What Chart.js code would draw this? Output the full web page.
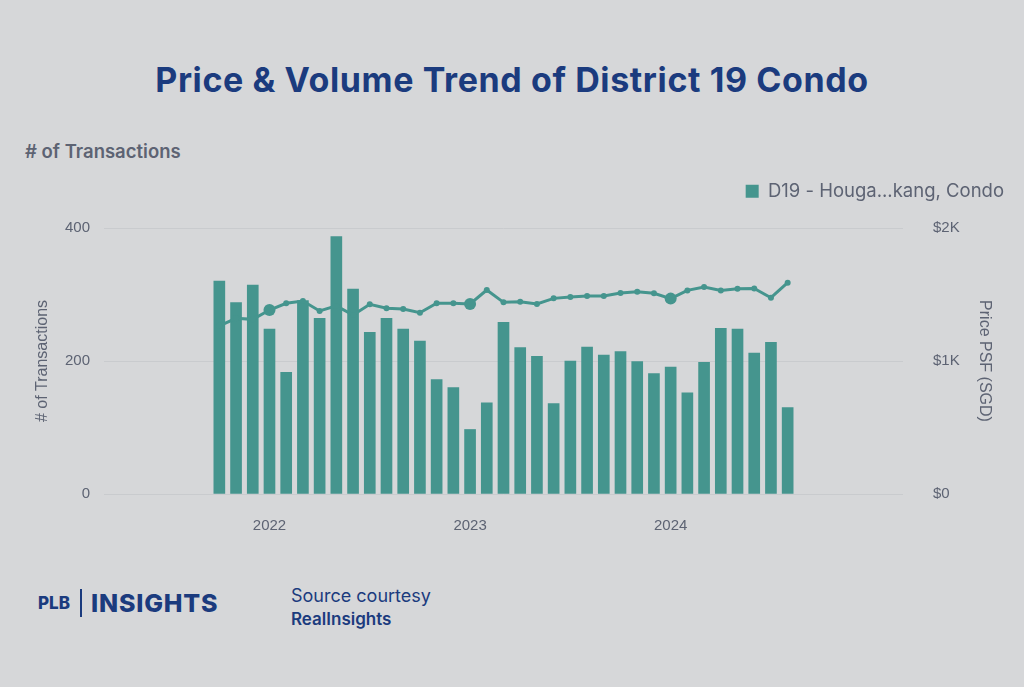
<!DOCTYPE html>
<html lang="en">
<head>
  <meta charset="UTF-8">
  <title>Price & Volume Trend of District 19 Condo</title>
  <script src="https://cdn.jsdelivr.net/npm/chart.js"></script>
  <style>
    html, body { margin: 0; padding: 0; }
    body { width: 1024px; height: 687px; background: #d6d7d9; position: relative; overflow: hidden; font-family: 'Inter', sans-serif; }
    h1 { position: absolute; left: 0; top: 59px; width: 1024px; margin: 0; text-align: center; font-size: 34px; font-weight: 700; color: #1b3b7e; letter-spacing: 0.6px; }
    .subhead { position: absolute; left: 25px; top: 140px; font-size: 18.5px; font-weight: 600; color: #5d6373; }
    .chart-box { position: absolute; left: 0; top: 170px; width: 1024px; height: 370px; }
    .logo { position: absolute; left: 38px; top: 588px; color: #1b3b7e; font-weight: 800; display: flex; align-items: center; }
    .logo .plb { font-size: 17px; }
    .logo .bar { width: 2px; height: 28px; background: #1b3b7e; margin: 0 9px 0 10px; }
    .logo .ins { font-size: 25px; letter-spacing: 0.8px; }
    .source { position: absolute; left: 291px; top: 584px; color: #1b3b7e; font-size: 18px; line-height: 23px; }
    .source b { font-weight: 600; font-size: 17px; }
  </style>
</head>
<body>
  <h1>Price &amp; Volume Trend of District 19 Condo</h1>
  <div class="subhead"># of Transactions</div>
  <div class="chart-box"><canvas id="d19Chart"></canvas></div>
  <div class="logo"><span class="plb">PLB</span><span class="bar"></span><span class="ins">INSIGHTS</span></div>
  <div class="source">Source courtesy<br><b>RealInsights</b></div>
  <script>
    // monthly data, Oct 2021 .. Aug 2024
    const months = ['2021-10','2021-11','2021-12',
      '2022-01','2022-02','2022-03','2022-04','2022-05','2022-06','2022-07','2022-08','2022-09','2022-10','2022-11','2022-12',
      '2023-01','2023-02','2023-03','2023-04','2023-05','2023-06','2023-07','2023-08','2023-09','2023-10','2023-11','2023-12',
      '2024-01','2024-02','2024-03','2024-04','2024-05','2024-06','2024-07','2024-08'];
    const transactions = [320, 288, 314,
      248, 183, 291, 264, 387, 308, 243, 264, 248, 230, 172, 160,
      97, 137, 258, 220, 207, 136, 200, 221, 209, 214, 199, 181,
      191, 152, 198, 249, 248, 212, 228, 130];
    const pricePsf = [1265, 1321, 1313,
      1383, 1434, 1451, 1376, 1414, 1346, 1426, 1396, 1391, 1363, 1434, 1434,
      1429, 1534, 1441, 1446, 1429, 1471, 1481, 1489, 1489, 1511, 1521, 1509,
      1469, 1531, 1556, 1531, 1544, 1546, 1476, 1589];
    const yearTicks = ['2022', '2023', '2024'];
    const seriesName = 'D19 - Houga...kang, Condo';

    const teal = '#45958e';
    const grey = '#5d6373';
    const BASE_YEAR = 2022;

    // months counted from Jan of the first tick year
    function monthIndex(s) {
      const [y, m] = s.split('-').map(Number);
      return (y - BASE_YEAR) * 12 + (m - 1);
    }
    const xs = months.map(monthIndex);
    const barData = xs.map((x, i) => ({ x: x, y: transactions[i] }));
    const lineData = xs.map((x, i) => ({ x: x, y: pricePsf[i] }));

    // keep the plot area where the reference has it
    const legendHeight = {
      id: 'legendHeight',
      beforeInit(chart) {
        const fit = chart.legend.fit;
        chart.legend.fit = function () { fit.call(this); this.height = 58; };
      }
    };

    const tickFont = { family: 'Liberation Sans', size: 15 };
    const titleFont = { family: 'Liberation Sans', size: 16 };

    new Chart(document.getElementById('d19Chart'), {
      data: {
        datasets: [
          {
            type: 'line', label: 'Price PSF', yAxisID: 'y1', data: lineData,
            borderColor: teal, backgroundColor: teal, borderWidth: 3,
            pointRadius: c => (xs[c.dataIndex] % 12 === 0 ? 6 : 3),
            pointBorderWidth: 0, tension: 0, order: 1
          },
          {
            type: 'bar', label: seriesName, yAxisID: 'y', data: barData,
            backgroundColor: teal, barThickness: 11, order: 2
          }
        ]
      },
      plugins: [legendHeight],
      options: {
        responsive: true, maintainAspectRatio: false, animation: false,
        layout: { padding: { right: 8 } },
        plugins: {
          tooltip: { enabled: false },
          legend: {
            position: 'top', align: 'end',
            labels: {
              filter: item => item.datasetIndex === 1,
              boxWidth: 13, boxHeight: 13, padding: 12,
              color: grey, font: { family: 'Inter', size: 18.5 }
            }
          }
        },
        scales: {
          x: {
            type: 'linear', min: -9.9, max: 37.9, offset: false,
            afterBuildTicks: s => { s.ticks = yearTicks.map(t => ({ value: (Number(t) - BASE_YEAR) * 12 })); },
            afterFit: s => { s.height = 46; },
            ticks: {
              autoSkip: false, padding: 15, color: grey, font: tickFont,
              callback: v => String(BASE_YEAR + v / 12)
            },
            grid: { display: false }, border: { display: false }
          },
          y: {
            position: 'left', min: 0, max: 400,
            afterFit: s => { s.width = 104; },
            ticks: { stepSize: 200, padding: 14, color: grey, font: tickFont },
            grid: { color: '#c9cbce', drawTicks: false, lineWidth: 1 },
            border: { display: false },
            title: { display: true, text: '# of Transactions', color: grey, padding: { top: 33, bottom: 0 }, font: titleFont }
          },
          y1: {
            position: 'right', min: 0, max: 2000,
            afterFit: s => { s.width = 113; },
            ticks: {
              stepSize: 1000, padding: 30, color: grey, font: tickFont,
              callback: v => (v === 0 ? '$0' : '$' + v / 1000 + 'K')
            },
            grid: { display: false, drawTicks: false },
            border: { display: false },
            title: { display: true, text: 'Price PSF (SGD)', color: grey, padding: { top: 22, bottom: 0 }, font: titleFont }
          }
        }
      }
    });
  </script>
</body>
</html>
